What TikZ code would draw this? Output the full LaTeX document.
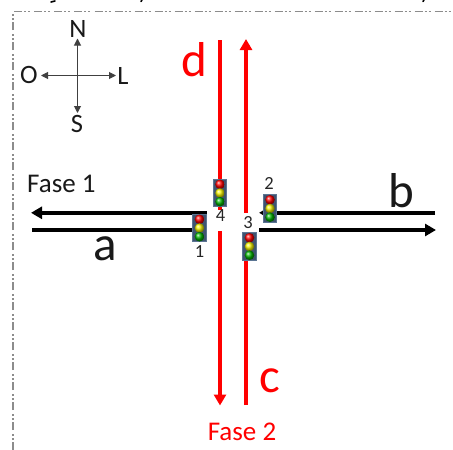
\documentclass[tikz,border=0pt]{standalone}
\usepackage{fontspec}
\setmainfont{Carlito}
\usetikzlibrary{arrows.meta}
\definecolor{tlcase}{HTML}{3F5470}
\definecolor{tlcaseedge}{HTML}{5B7593}
\definecolor{frameg}{HTML}{8C8C8C}
\tikzset{
  frameline/.style={draw=frameg,line width=1.5pt,dash pattern=on 8pt off 2pt on 2pt off 2pt on 2pt off 4pt},
  road/.style={draw=black,line width=3.6pt},
  redroad/.style={draw=red,line width=3.8pt},
  roadtip/.style={-{Triangle[length=11pt,width=12pt]}},
  compass/.style={draw=black!75,line width=1pt,-{Triangle[length=7pt,width=7pt]}},
  dirlabel/.style={font=\fontsize{26.5}{26.5}\selectfont,inner sep=0pt,text=black!90},
  bigblack/.style={font=\fontsize{49}{49}\selectfont,inner sep=0pt,text=black!90},
  bigred/.style={font=\fontsize{49}{49}\selectfont,inner sep=0pt,text=red},
  phasetext/.style={font=\fontsize{27}{27}\selectfont,inner sep=0pt},
  numlabel/.style={font=\fontsize{18.5}{18.5}\selectfont,inner sep=0pt,text=black!85},
  tlbox/.style={draw=tlcaseedge,fill=tlcase,line width=0.8pt,minimum width=13.5pt,minimum height=27.5pt,inner sep=0pt},
  lamp/.style={circle,inner sep=0pt,minimum size=9.6pt},
  scrap/.style={draw=black,line width=1.6pt,line cap=round}
}
\newcommand{\tlight}[3]{%
  \node[tlbox] (#1) at (#2,#3) {};
  \node[lamp,ball color=red] (#1r) at (#2,#3-8.7) {};
  \node[lamp,ball color=yellow!95!black] (#1y) at (#2,#3) {};
  \node[lamp,ball color=green!70!black] (#1g) at (#2,#3+8.7) {};
}
\begin{document}
\begin{tikzpicture}[x=1pt,y=-1pt]
\useasboundingbox (0,0) rectangle (453,450);
% page frame
\coordinate (frameBL) at (13,450);
\coordinate (frameTL) at (13,11.5);
\coordinate (frameTR) at (453,11.5);
\draw[frameline] (frameBL) -- (frameTL) -- (frameTR);
% remains of cut-off text at the top edge
\coordinate (s1a) at (51,2); \coordinate (s1b) at (55,1);
\coordinate (s2a) at (142,0); \coordinate (s2b) at (141,1.5);
\coordinate (s3a) at (424,0); \coordinate (s3b) at (423,1.5);
\draw[scrap] (s1a) -- (s1b);
\draw[scrap] (s2a) -- (s2b);
\draw[scrap] (s3a) -- (s3b);
% compass
\node[dirlabel] (N) at (78,29) {N};
\node[dirlabel] (S) at (77,124) {S};
\node[dirlabel] (O) at (29,75) {O};
\node[dirlabel] (L) at (123,76) {L};
\coordinate (cc) at (77.5,75.5);
\coordinate (cn) at (77.5,38.5);
\coordinate (cs) at (77.5,113);
\coordinate (co) at (41,75.5);
\coordinate (cl) at (116,75.5);
\draw[compass] (cc) -- (cn);
\draw[compass] (cc) -- (cs);
\draw[compass] (cc) -- (co);
\draw[compass] (cc) -- (cl);
% black roads
\coordinate (ua) at (207,212.8); \coordinate (ub) at (31,212.8);
\coordinate (la) at (32,230); \coordinate (lb) at (207,230);
\coordinate (uc) at (435,212.8); \coordinate (ud) at (259,212.8);
\coordinate (lc) at (259,230); \coordinate (ld) at (436,230);
\draw[road,roadtip] (ua) -- (ub);
\draw[road] (la) -- (lb);
\draw[road,roadtip] (uc) -- (ud);
\draw[road,roadtip] (lc) -- (ld);
% red roads
\coordinate (ra) at (220,40); \coordinate (rb) at (220,210);
\coordinate (rc) at (220,231); \coordinate (rd) at (220,405.5);
\coordinate (re) at (246,405); \coordinate (rf) at (246,232);
\coordinate (rg) at (246,213); \coordinate (rh) at (246,39);
\draw[redroad] (ra) -- (rb);
\draw[redroad,roadtip] (rc) -- (rd);
\draw[redroad] (re) -- (rf);
\draw[redroad,roadtip] (rg) -- (rh);
% traffic lights
\tlight{tlone}{199.5}{228}
\tlight{tlfour}{220}{193}
\tlight{tltwo}{270}{208.5}
\tlight{tlthree}{249.5}{246.5}
\node[numlabel] (n1) at (199.5,251.5) {1};
\node[numlabel] (n4) at (220.5,216) {4};
\node[numlabel] (n2) at (269,183.5) {2};
\node[numlabel] (n3) at (248,223) {3};
% labels
\node[phasetext,anchor=west,text=black!90] (f1) at (27,184) {Fase 1};
\node[phasetext,text=red] (f2) at (242,431.5) {Fase 2};
\node[bigblack,anchor=base] (a) at (105,260) {a};
\node[bigblack,anchor=base] (b) at (401,207) {b};
\node[bigred,anchor=base] (c) at (269.5,392) {c};
\node[bigred,anchor=base] (d) at (194,76.5) {d};
\end{tikzpicture}
\end{document}
